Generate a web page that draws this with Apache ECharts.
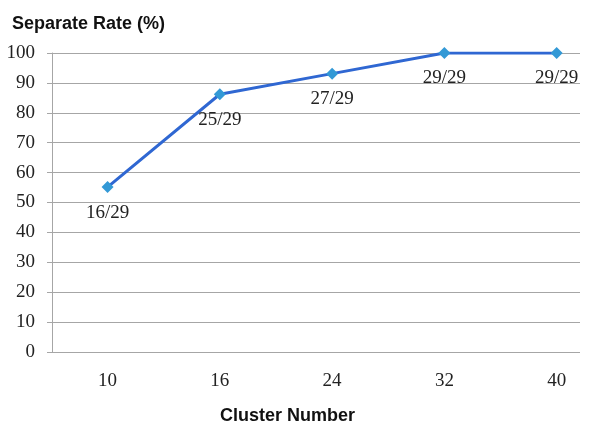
<!DOCTYPE html>
<html>
<head>
<meta charset="utf-8">
<script src="https://cdn.jsdelivr.net/npm/echarts@6/dist/echarts.min.js"></script>
<style>html,body{margin:0;padding:0;background:#fff}#c{width:600px;height:430px}</style>
</head>
<body>
<div id="c"></div>
<script>
var categories = ['10', '16', '24', '32', '40'];
var rates = [55.17, 86.21, 93.10, 100, 100];
var pointLabels = ['16/29', '25/29', '27/29', '29/29', '29/29'];
var yTicks = [0, 10, 20, 30, 40, 50, 60, 70, 80, 90, 100];

var serif = '"Liberation Serif", "Times New Roman", serif';
var sans = '"Liberation Sans", Arial, sans-serif';

var chart = echarts.init(document.getElementById('c'));
chart.setOption({
  backgroundColor: '#fff',
  animation: false,
  title: [
    { text: 'Separate Rate (%)', left: 7, top: 10,
      textStyle: { fontFamily: sans, fontSize: 18, fontWeight: 'bold', color: '#111' } },
    { text: 'Cluster Number', left: 215, top: 402,
      textStyle: { fontFamily: sans, fontSize: 18, fontWeight: 'bold', color: '#111' } }
  ],
  grid: [
    { left: 52, right: 20, top: 53, bottom: 78, outerBoundsMode: 'none' },
    { left: 51.4, width: 561.4, top: 53, bottom: 78, outerBoundsMode: 'none' }
  ],
  xAxis: [
    { gridIndex: 0, type: 'category', data: categories, show: false },
    { gridIndex: 1, type: 'category', data: categories, boundaryGap: true,
      axisLine: { show: false }, axisTick: { show: false },
      axisLabel: { margin: 20, fontFamily: serif, fontSize: 19, color: '#222' } }
  ],
  yAxis: [
    { gridIndex: 0, type: 'value', min: yTicks[0], max: yTicks[yTicks.length - 1], interval: 10,
      axisLine: { show: true, lineStyle: { color: '#A6A6A6', width: 1 } },
      axisTick: { show: true, length: 5, lineStyle: { color: '#A6A6A6' } },
      splitLine: { show: true, lineStyle: { color: '#A6A6A6', width: 1 } },
      axisLabel: { margin: 17, fontFamily: serif, fontSize: 19, color: '#222' } },
    { gridIndex: 1, type: 'value', min: 0, max: 100, show: false, splitLine: { show: false } }
  ],
  series: [{
    type: 'line',
    xAxisIndex: 1, yAxisIndex: 1,
    data: rates,
    symbol: 'diamond',
    symbolSize: 12,
    lineStyle: { color: '#2F67D2', width: 3 },
    itemStyle: { color: '#3399D6' },
    label: {
      show: true, position: 'bottom', distance: 10,
      fontFamily: serif, fontSize: 19, color: '#222',
      formatter: function (p) { return pointLabels[p.dataIndex]; }
    }
  }]
});
</script>
</body>
</html>
